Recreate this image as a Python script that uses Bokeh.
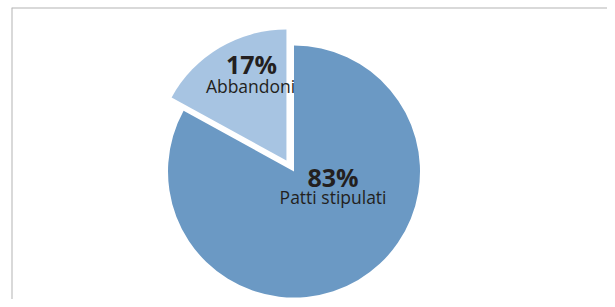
import numpy as np
from bokeh.plotting import figure
from bokeh.models import ColumnDataSource, Range1d, Span
from bokeh.core.properties import value
from bokeh.embed import file_html
from bokeh.resources import INLINE

# ---- data ----
categories = ["Patti stipulati", "Abbandoni"]
values = [83, 17]
pct_labels = ["83%", "17%"]

# ---- styles ----
colors = ["#6b99c4", "#a7c4e2"]
explode_dx = [0.0, -0.06]
explode_dy = [0.0, 0.087]
radii = [1.0, 1.04]
# label anchor positions (data units, pie radius = 1)
pct_pos_x = [0.31, -0.337]
pct_pos_y = [-0.047, 0.854]
name_pos_x = [0.31, -0.345]
name_pos_y = [-0.202, 0.675]
text_color = "#231f20"

X0, X1 = -2.2421, 2.488
Y0, Y1 = -1.0159, 1.3016

vals = np.array(values, dtype=float)
cum = np.cumsum(vals)
total = vals.sum()
# clockwise from 12 o'clock
a_start_cw = np.pi / 2 - 2 * np.pi * (cum - vals) / total
a_end_cw = np.pi / 2 - 2 * np.pi * cum / total

src = ColumnDataSource(dict(
    x=explode_dx, y=explode_dy, r=radii,
    start=list(a_end_cw), end=list(a_start_cw),
    color=colors, cat=categories,
))

p = figure(width=607, height=299, output_backend="svg", toolbar_location=None,
           x_axis_location=None, y_axis_location=None,
           x_range=Range1d(X0, X1), y_range=Range1d(Y0, Y1),
           min_border_left=11, min_border_top=7, min_border_right=0, min_border_bottom=0)
p.grid.visible = False
p.outline_line_color = None
p.background_fill_color = "white"
p.border_fill_color = "white"

p.wedge(x="x", y="y", radius="r", start_angle="start", end_angle="end",
        fill_color="color", line_color=None, source=src)

lab = ColumnDataSource(dict(px=pct_pos_x, py=pct_pos_y, nx=name_pos_x, ny=name_pos_y,
                            pct=pct_labels, cat=categories))
p.text(x="px", y="py", text="pct", source=lab, text_align="center",
       text_baseline="alphabetic", text_font=value("Open Sans"),
       text_font_style="bold", text_font_size="25px", text_color=text_color)
p.text(x="nx", y="ny", text="cat", source=lab, text_align="center",
       text_baseline="alphabetic", text_font=value("Open Sans"),
       text_font_size="17.5px", text_color=text_color)

# frame lines (left and top)
p.add_layout(Span(location=X0, dimension="height", line_color="#b3b3b3", line_width=2))
p.add_layout(Span(location=Y1, dimension="width", line_color="#b3b3b3", line_width=2))

open("out.html", "w").write(file_html(p, INLINE))
